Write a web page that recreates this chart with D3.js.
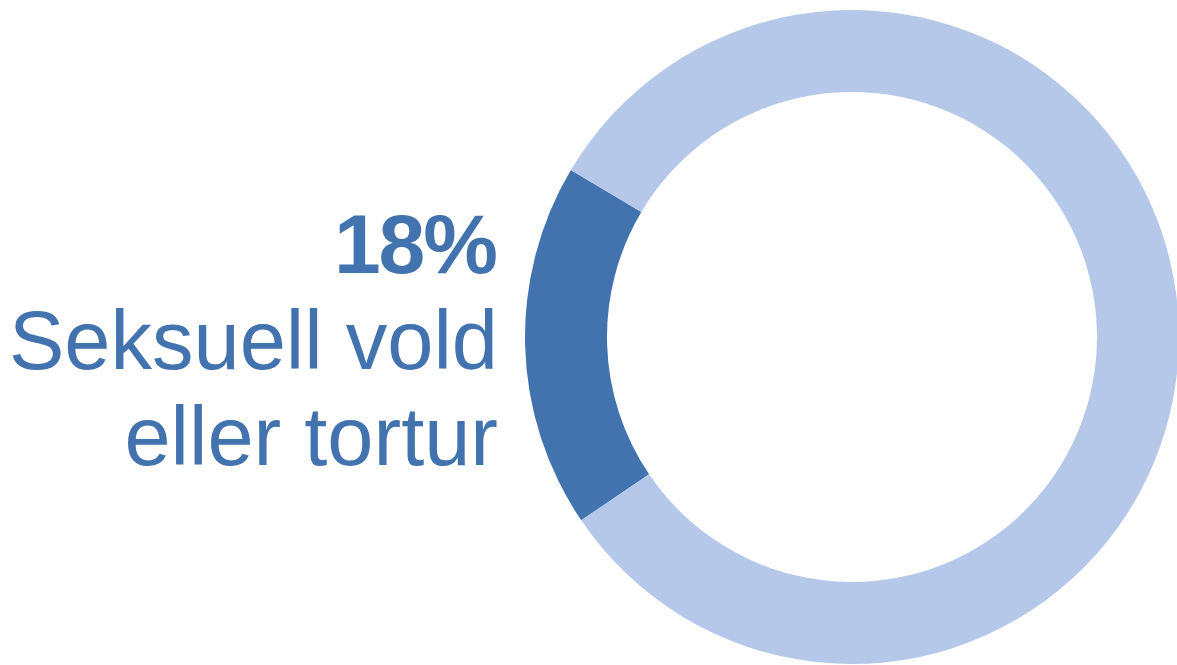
<!DOCTYPE html>
<html lang='no'>
<head>
  <meta charset='UTF-8'>
  <title>Seksuell vold eller tortur</title>
  <style>
    html, body { margin: 0; padding: 0; background: #fff; overflow: hidden; }
  </style>
</head>
<body>
  <script src='https://cdn.jsdelivr.net/npm/d3@7/dist/d3.min.js'></script>
  <script>
// data
const categories = ['Seksuell vold eller tortur', 'Annet'];
const values = [18, 82];
const colors = ['#4373AF', '#B5C8E9'];
const labelLines = ['Seksuell vold', 'eller tortur'];

const width = 1177;
const height = 665;

const svg = d3.select('body')
  .append('svg')
  .attr('width', width)
  .attr('height', height);

const cx = 852, cy = 337;
const outerRadius = 327;
const innerRadius = 245;

// first slice starts a little below the left side (rotated like the original)
const start = 235.9 * Math.PI / 180;

const pie = d3.pie()
  .sort(null)
  .startAngle(start)
  .endAngle(start + 2 * Math.PI);

const arc = d3.arc()
  .innerRadius(innerRadius)
  .outerRadius(outerRadius);

const g = svg.append('g')
  .attr('transform', 'translate(' + cx + ',' + cy + ')');

g.selectAll('path')
  .data(pie(values))
  .enter()
  .append('path')
  .attr('fill', (d, i) => colors[i])
  .attr('d', arc);

// label on the left
const label = svg.append('g')
  .attr('font-family', '"Liberation Sans", Arial, sans-serif')
  .attr('fill', colors[0])
  .attr('text-anchor', 'end');

label.append('text')
  .attr('x', 496)
  .attr('y', 273)
  .attr('font-size', 84)
  .attr('font-weight', 'bold')
  .attr('letter-spacing', '-2px')
  .text(d3.format('.0%')(values[0] / d3.sum(values)));

label.selectAll('text.line')
  .data(labelLines)
  .enter()
  .append('text')
  .attr('class', 'line')
  .attr('x', 498)
  .attr('y', (d, i) => 369 + i * 96)
  .attr('font-size', 83)
  .text(d => d);
  </script>
</body>
</html>
